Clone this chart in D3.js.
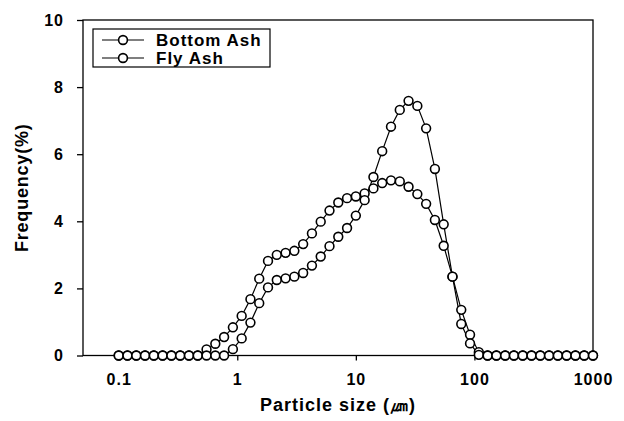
<!DOCTYPE html>
<html><head><meta charset="utf-8">
<script src="https://cdn.jsdelivr.net/npm/d3@7"></script>
<style>body{margin:0;background:#fff}svg{display:block}</style>
</head><body>
<svg id="c" width="624" height="421"></svg>
<script>
const sizes = [0.1,0.1186,0.1407,0.1668,0.1979,0.2347,0.2783,0.3301,0.3915,0.4642,
 0.5506,0.653,0.7743,0.9184,1.0892,1.2915,1.5317,1.8165,2.1544,2.5551,
 3.0302,3.5938,4.262,5.0546,5.9948,7.1097,8.4317,10,11.86,14.07,
 16.68,19.79,23.47,27.83,33.01,39.15,46.42,55.06,65.3,77.43,
 91.84,108.9,129.2,153.2,181.7,215.4,255.5,303,359.4,426.2,
 505.5,599.5,711,843.2,1000];
const bottomAsh = [0,0,0,0,0,0,0,0,0,0,
 0,0,0,0.19,0.51,0.98,1.56,2.03,2.25,2.30,
 2.35,2.46,2.68,2.95,3.26,3.54,3.80,4.17,4.63,5.32,
 6.09,6.82,7.32,7.59,7.44,6.77,5.56,3.91,2.35,0.94,
 0.36,0.02,0,0,0,0,0,0,0,0,
 0,0,0,0,0];
const flyAsh = [0,0,0,0,0,0,0,0,0,0,
 0.18,0.35,0.55,0.84,1.18,1.68,2.29,2.82,3.00,3.06,
 3.12,3.32,3.64,3.99,4.32,4.56,4.69,4.74,4.83,4.98,
 5.14,5.22,5.19,5.03,4.81,4.52,4.04,3.27,2.35,1.36,
 0.62,0.10,0,0,0,0,0,0,0,0,
 0,0,0,0,0];
const seriesNames = ["Bottom Ash","Fly Ash"];
const xTicks = [0.1,1,10,100,1000];
const xTickLabels = ["0.1","1","10","100","1000"];
const yTicks = [0,2,4,6,8,10];

const svg = d3.select("#c");
const L=83,R=593,T=20,B=355.5;
const x = d3.scaleLog().domain([0.05,1000]).range([L,R]);
const y = d3.scaleLinear().domain([0,10]).range([B,T]);
const font = "'Liberation Sans', Arial, sans-serif";

// frame
svg.append("rect").attr("x",L).attr("y",T).attr("width",R-L).attr("height",B-T)
  .attr("fill","none").attr("stroke","#000").attr("stroke-width",1.3);

// x axis
const xa = svg.append("g").attr("transform",`translate(0,${B})`)
  .call(d3.axisBottom(x).tickValues(xTicks).tickFormat((d,i)=>xTickLabels[i]).tickSize(5).tickPadding(13));
xa.select(".domain").remove();
xa.selectAll("line").attr("stroke","#000").attr("stroke-width",1.3);
xa.selectAll("text").attr("font-family",font).attr("font-weight","bold").attr("font-size",16)
  .attr("letter-spacing",1).attr("fill","#000");

// y axis
const ya = svg.append("g").attr("transform",`translate(${L},0)`)
  .call(d3.axisLeft(y).tickValues(yTicks).tickFormat(d3.format("d")).tickSize(6).tickPadding(13));
ya.select(".domain").remove();
ya.selectAll("line").attr("stroke","#000").attr("stroke-width",1.3);
ya.selectAll("text").attr("font-family",font).attr("font-weight","bold").attr("font-size",16)
  .attr("letter-spacing",1).attr("fill","#000");

// titles
svg.append("text").attr("x",338).attr("y",411).attr("text-anchor","middle")
  .attr("font-family",font).attr("font-weight","bold").attr("font-size",18).attr("letter-spacing",1)
  .text("Particle size (㎛)");
svg.append("text").attr("transform",`translate(28,${(T+B)/2}) rotate(-90)`).attr("text-anchor","middle")
  .attr("font-family",font).attr("font-weight","bold").attr("font-size",18).attr("letter-spacing",0.8)
  .text("Frequency(%)");

const line = d3.line().x((d,i)=>x(sizes[i])).y(d=>y(d));
[bottomAsh,flyAsh].forEach(vals=>{
  svg.append("path").datum(vals).attr("d",line).attr("fill","none").attr("stroke","#000").attr("stroke-width",1.2);
});
[flyAsh,bottomAsh].forEach(vals=>{
  svg.append("g").selectAll("circle").data(vals).join("circle")
    .attr("cx",(d,i)=>x(sizes[i])).attr("cy",d=>y(d)).attr("r",4.4)
    .attr("fill","#fff").attr("stroke","#000").attr("stroke-width",1.6);
});

// legend
const lg = svg.append("g");
lg.append("rect").attr("x",93).attr("y",29).attr("width",177).attr("height",38)
  .attr("fill","#fff").attr("stroke","#000").attr("stroke-width",1.2);
seriesNames.forEach((n,i)=>{
  const yy = 40 + i*18;
  lg.append("line").attr("x1",102).attr("x2",144).attr("y1",yy).attr("y2",yy).attr("stroke","#000").attr("stroke-width",1.2);
  lg.append("circle").attr("cx",123).attr("cy",yy).attr("r",4.4).attr("fill","#fff").attr("stroke","#000").attr("stroke-width",1.6);
  lg.append("text").attr("x",156).attr("y",yy+6).attr("font-family",font).attr("font-weight","bold")
    .attr("font-size",17).attr("letter-spacing",1).text(n);
});
</script>
</body></html>
